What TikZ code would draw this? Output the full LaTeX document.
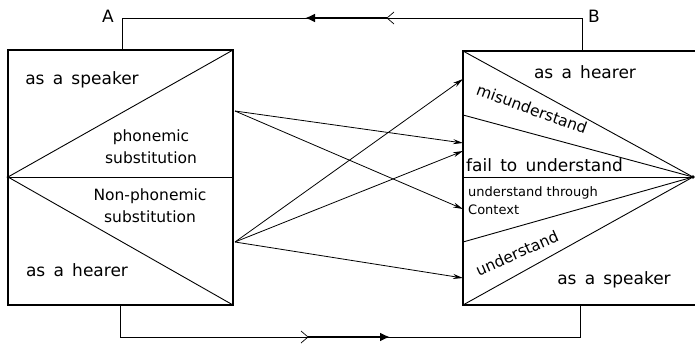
\documentclass[tikz,border=0pt]{standalone}
\usepackage{fontspec}
\setmainfont{DejaVu Sans}
\usetikzlibrary{arrows.meta}
\begin{document}
\begin{tikzpicture}[x=1pt,y=-1pt,
  boxline/.style={line width=1.3pt},
  diag/.style={line width=0.9pt},
  feed/.style={line width=0.7pt},
  conn/.style={line width=0.8pt,-{Stealth[length=10pt,width=5pt]}},
  lbl/.style={inner sep=0pt,font=\fontsize{17}{20}\selectfont},
  lblm/.style={inner sep=0pt,font=\fontsize{15.5}{22}\selectfont,align=center},
  lbls/.style={inner sep=0pt,font=\fontsize{13}{18}\selectfont,align=left},
]
\useasboundingbox (0,0) rectangle (695,343);
% left box corners
\coordinate (LTL) at (8,50);
\coordinate (LTR) at (233,50);
\coordinate (LBL) at (8,305);
\coordinate (LBR) at (233,305);
\coordinate (LML) at (8,177);
\coordinate (LMR) at (233,177);
% right box
\coordinate (RTL) at (463,51);
\coordinate (RTR) at (695,51);
\coordinate (RBL) at (463,305);
\coordinate (RBR) at (695,305);
\coordinate (RP) at (693,177);
\coordinate (R2) at (463,115);
\coordinate (R3) at (463,177);
\coordinate (R4) at (463,242);
% boxes
\draw[boxline] (LTL) rectangle (LBR);
\draw[diag] (LML) -- (LMR);
\draw[diag] (LML) -- (LTR);
\draw[diag] (LML) -- (LBR);
\fill (LML) circle (1.5pt);
\draw[boxline] (RTR) -- (RTL) -- (RBL) -- (RBR);
\draw[diag] (RTL) -- (RP);
\draw[diag] (R2) -- (RP);
\draw[diag] (R3) -- (RP);
\draw[diag] (R4) -- (RP);
\draw[diag] (RBL) -- (RP);
\fill (RP) circle (1.8pt);
% feedback loops
\coordinate (Abot) at (122,50);
\coordinate (Atop) at (122,18);
\coordinate (Btop) at (582,18);
\coordinate (Bbot) at (582,51);
\draw[feed] (Abot) -- (Atop) -- (Btop) -- (Bbot);
\coordinate (T1) at (387,18);
\coordinate (T2) at (305,18);
\draw[line width=2pt,-{Latex[length=10pt,width=9pt]}] (T1) -- (T2);
\draw[feed] ([shift={(7,-6)}]T1) -- (T1) -- ([shift={(7,6)}]T1);
\coordinate (Cbot) at (120,305);
\coordinate (Cdn) at (120,337);
\coordinate (Ddn) at (580,337);
\coordinate (Dbot) at (580,305);
\draw[feed] (Cbot) -- (Cdn) -- (Ddn) -- (Dbot);
\coordinate (U1) at (308,337);
\coordinate (U2) at (390,337);
\draw[line width=2pt,-{Latex[length=10pt,width=9pt]}] (U1) -- (U2);
\draw[feed] ([shift={(-7,-6)}]U1) -- (U1) -- ([shift={(-7,6)}]U1);
\node[lbl] (A) at (108,16) {A};
\node[lbl] (B) at (594,16) {B};
% connectors
\coordinate (S1) at (235,111);
\coordinate (S2) at (235,242);
\coordinate (E1) at (463,143);
\coordinate (E2) at (463,209);
\coordinate (E3) at (463,79);
\coordinate (E4) at (463,151);
\coordinate (E5) at (463,278);
\draw[conn] (S1) -- (E1);
\draw[conn] (S1) -- (E2);
\draw[conn] (S2) -- (E3);
\draw[conn] (S2) -- (E4);
\draw[conn] (S2) -- (E5);
% left labels
\node[lbl] (lspk) at (82,80) {as\, a\, speaker};
\node[lblm] (phon) at (151,147) {phonemic\\substitution};
\node[lblm] (nphon) at (150,206) {Non-phonemic\\substitution};
\node[lbl] (lhear) at (77,270) {as\, a\, hearer};
% right labels
\node[lbl] (rhear) at (585,72) {as\, a\, hearer};
\node[lblm,rotate=-20] (mis) at (532,109) {misunderstand};
\node[lbl,anchor=west] (fail) at (466,165) {fail\, to\, understand};
\node[lbls,anchor=west] (thr) at (468,201) {understand through\\Context};
\node[lblm,rotate=24] (und) at (517,253) {understand};
\node[lbl] (rspk) at (614,280) {as\, a\, speaker};
\end{tikzpicture}
\end{document}
